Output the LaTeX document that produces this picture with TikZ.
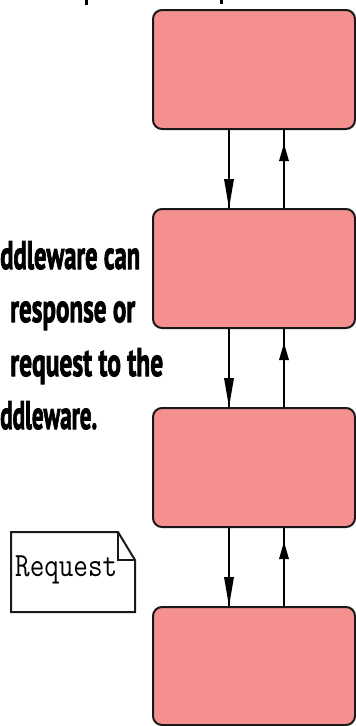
\documentclass[tikz,border=0pt]{standalone}
\usepackage{fontspec}
\setmainfont{PT Sans}
\usepackage{graphicx}
\definecolor{boxfill}{RGB}{244,145,143}
\definecolor{edge}{RGB}{25,25,25}
\begin{document}
\begin{tikzpicture}[x=1pt,y=-1pt,
  mwbox/.style={draw=edge,line width=2pt,fill=boxfill,rounded corners=9pt,minimum width=202pt,minimum height=119pt,inner sep=0pt},
  conn/.style={draw=black,line width=1.5pt},
  headfill/.style={fill=black},
  note/.style={anchor=base west,inner sep=0pt,font=\fontsize{40}{40}\selectfont\bfseries\addfontfeature{FakeBold=2.5}},
  doc/.style={draw=edge,line width=2pt,fill=white,line join=miter},
  reqtext/.style={anchor=base west,inner sep=0pt,font=\fontsize{34}{34}\selectfont\ttfamily},
]
\useasboundingbox (0,0) rectangle (356,726);

% cropped fragments at the top edge
\fill[black] (85,0) rectangle (88,5);
\fill[black] (220,0) rectangle (223,4);

% middleware boxes
\node[mwbox] (b1) at (254,69.5) {};
\node[mwbox] (b2) at (254,268.5) {};
\node[mwbox] (b3) at (254,467.5) {};
\node[mwbox,minimum height=118pt] (b4) at (254,666) {};

% connectors
\foreach \a/\b in {b1/b2,b2/b3,b3/b4}{
  \coordinate (dx-\a) at ([xshift=-25pt]\a.south);
  \coordinate (ux-\a) at ([xshift=30pt]\a.south);
  \coordinate (dt-\a) at (dx-\a |- \b.north);
  \coordinate (ut-\a) at ([yshift=-14pt]ux-\a);
  % request going down
  \draw[conn] (dx-\a) -- (dt-\a);
  \fill[headfill] (dt-\a) -- ++(-5,-29) -- ++(10,0) -- cycle;
  % response going up
  \draw[conn] (ux-\a |- \b.north) -- (ux-\a);
  \fill[headfill] (ut-\a) -- ++(-5,17) -- ++(10,0) -- cycle;
}

% left text
\node[note] (l1) at (0,269) {\resizebox{140pt}{\height}{ddleware can}};
\node[note] (l2) at (10,322) {\resizebox{125pt}{\height}{response or}};
\node[note] (l3) at (10,376) {\resizebox{153pt}{\height}{request to the}};
\node[note] (l4) at (0,429) {\resizebox{97pt}{\height}{ddleware.}};

% request document
\draw[doc] (11,532) -- (118,532) -- (135,560) -- (135,612) -- (11,612) -- cycle;
\draw[edge,line width=1.5pt] (118,532) -- (118,560) -- (135,560);
\node[reqtext] (req) at (15,576) {\resizebox{102pt}{\height}{Request}};
\end{tikzpicture}
\end{document}
